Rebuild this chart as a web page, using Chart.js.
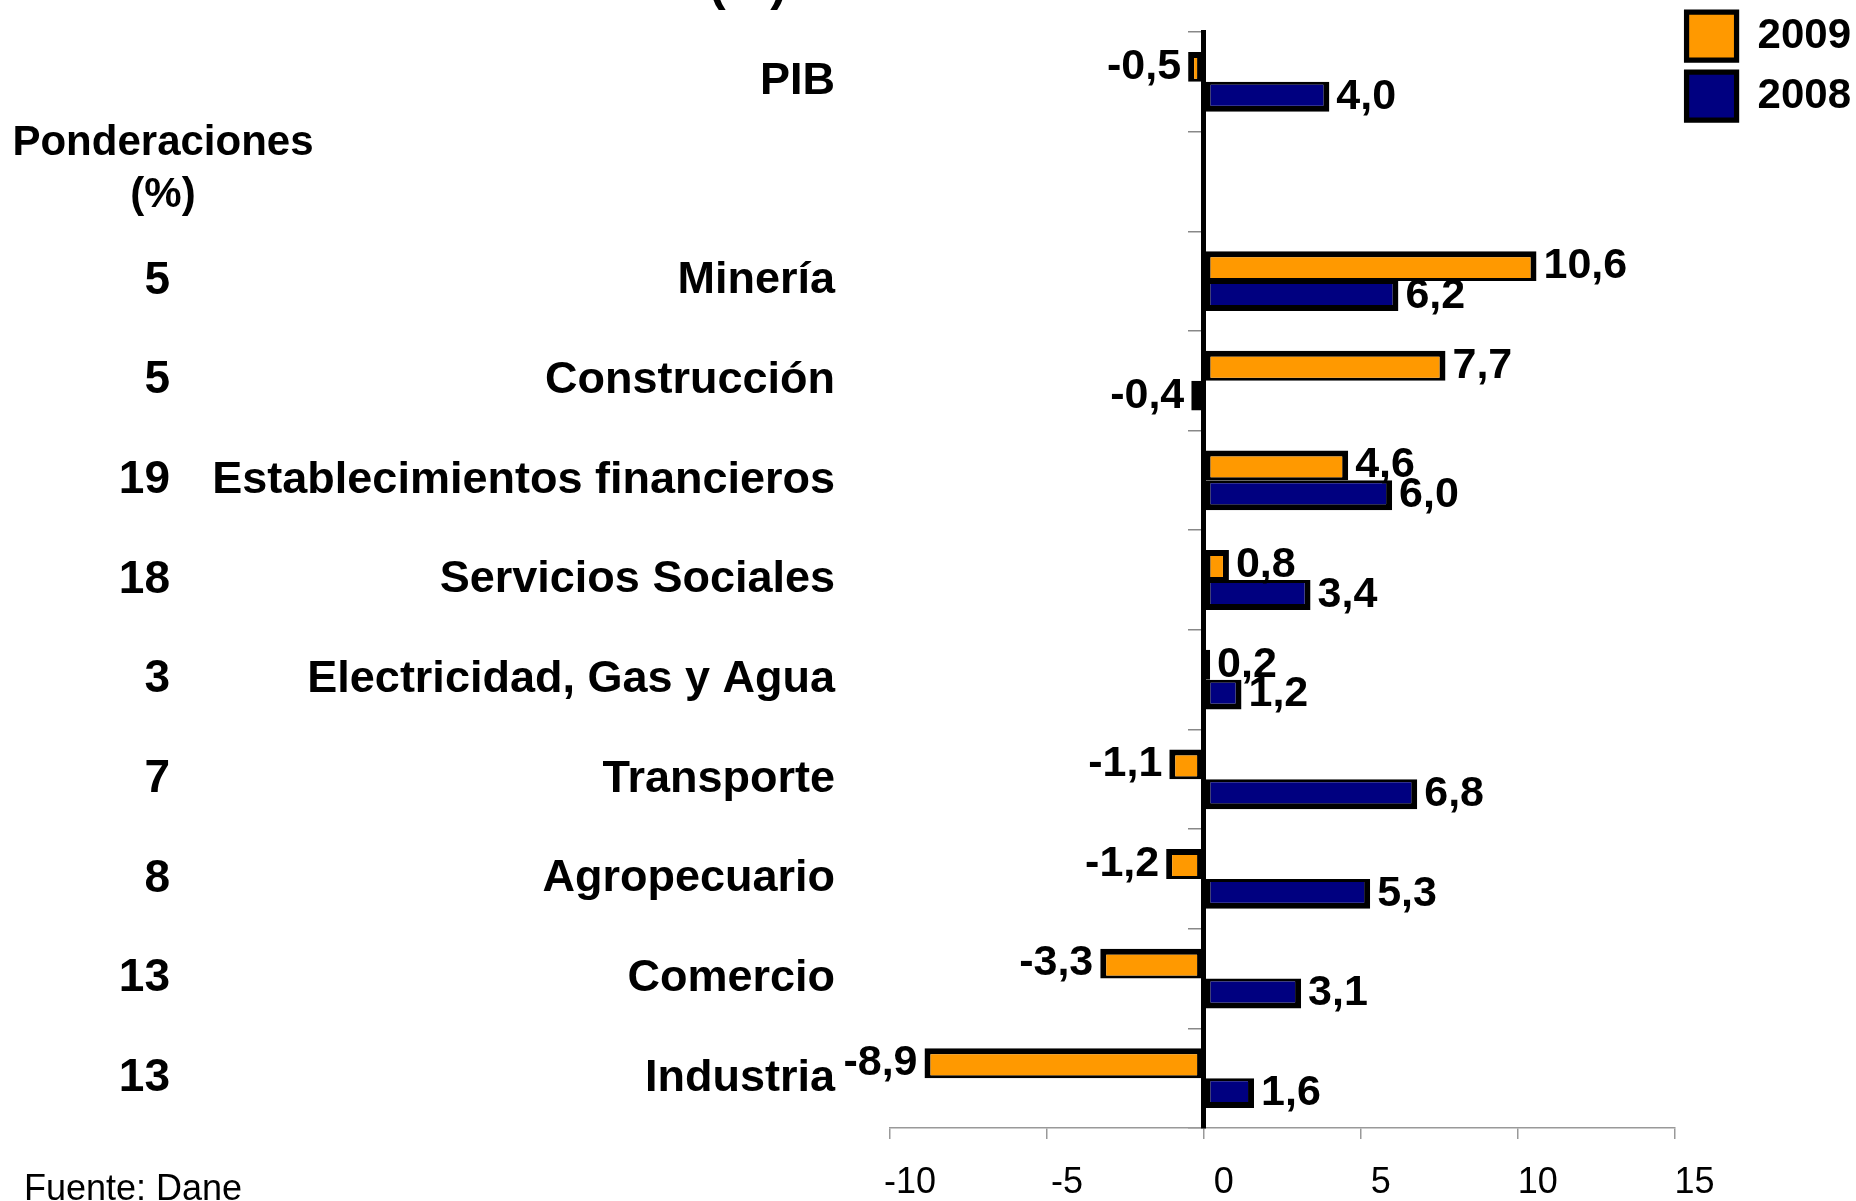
<!DOCTYPE html>
<html>
<head>
<meta charset="utf-8">
<script src="https://cdn.jsdelivr.net/npm/chart.js@4.4.1/dist/chart.umd.min.js"></script>
<style>
html,body{margin:0;padding:0;background:#fff;overflow:hidden}
#wrap{position:relative;width:1856px;height:1201px}
</style>
</head>
<body>
<div id="wrap"><canvas id="c" width="1856" height="1201"></canvas></div>
<script>
const categories = ['PIB', '', 'Minería', 'Construcción', 'Establecimientos financieros', 'Servicios Sociales', 'Electricidad, Gas y Agua', 'Transporte', 'Agropecuario', 'Comercio', 'Industria'];
const ponderaciones = ['', '', '5', '5', '19', '18', '3', '7', '8', '13', '13'];
const values2009 = [-0.5, null, 10.6, 7.7, 4.6, 0.8, 0.2, -1.1, -1.2, -3.3, -8.9];
const values2008 = [4.0, null, 6.2, -0.4, 6.0, 3.4, 1.2, 6.8, 5.3, 3.1, 1.6];
const seriesNames = ['2009', '2008'];
const xTicks = [-10, -5, 0, 5, 10, 15];
const headerLines = ['Ponderaciones', '(%)'];
const sourceNote = 'Fuente: Dane';
const titleFragment = '(%)';

const FONT = '"Liberation Sans", Arial, Helvetica, sans-serif';

const valueLabels = {
  id: 'valueLabels',
  afterDatasetsDraw(chart) {
    const ctx = chart.ctx;
    ctx.save();
    ctx.font = 'bold 43px ' + FONT;
    ctx.fillStyle = '#000';
    ctx.textBaseline = 'middle';
    chart.data.datasets.forEach((ds, di) => {
      const meta = chart.getDatasetMeta(di);
      meta.data.forEach((el, i) => {
        const v = ds.data[i];
        if (v === null || v === undefined) return;
        const txt = v.toFixed(1).replace('.', ',');
        if (v >= 0) {
          ctx.textAlign = 'left';
          ctx.fillText(txt, el.x + 7, el.y);
        } else {
          ctx.textAlign = 'right';
          ctx.fillText(txt, el.x - 7, el.y);
        }
      });
    });
    ctx.restore();
  }
};

const sideTexts = {
  id: 'sideTexts',
  afterDraw(chart) {
    const ctx = chart.ctx;
    const yScale = chart.scales.y;
    ctx.save();
    ctx.fillStyle = '#000';
    ctx.font = 'bold 42px ' + FONT;
    ctx.textAlign = 'center';
    ctx.textBaseline = 'middle';
    ctx.fillText(headerLines[0], 163, 143);
    ctx.fillText(headerLines[1], 163, 195);
    ctx.font = 'bold 46px ' + FONT;
    ctx.textAlign = 'right';
    ponderaciones.forEach((p, i) => {
      if (!p) return;
      ctx.fillText(p, 170, yScale.getPixelForValue(i));
    });
    ctx.font = '36px ' + FONT;
    ctx.textAlign = 'left';
    ctx.textBaseline = 'alphabetic';
    ctx.fillText(sourceNote, 24, 1200);
    ctx.font = 'bold 50px ' + FONT;
    ctx.textAlign = 'center';
    ctx.fillText(titleFragment, 748, 0);
    ctx.restore();
  }
};

const noPad = s => { s.paddingTop = 0; s.paddingBottom = 0; };

new Chart(document.getElementById('c'), {
  type: 'bar',
  data: {
    labels: categories,
    datasets: [
      {
        label: seriesNames[0],
        data: values2009,
        backgroundColor: '#FF9900',
        borderColor: '#000000',
        borderWidth: { top: 6, right: 6, bottom: 3, left: 6 },
        borderSkipped: false,
        categoryPercentage: 0.6,
        barPercentage: 1.0
      },
      {
        label: seriesNames[1],
        data: values2008,
        backgroundColor: '#000080',
        borderColor: '#000000',
        borderWidth: { top: 3, right: 6, bottom: 6, left: 6 },
        borderSkipped: false,
        categoryPercentage: 0.6,
        barPercentage: 1.0
      }
    ]
  },
  options: {
    indexAxis: 'y',
    responsive: false,
    devicePixelRatio: 1,
    animation: false,
    layout: { padding: { left: 0, top: 0, bottom: 0, right: -5 } },
    scales: {
      x: {
        type: 'linear',
        position: 'bottom',
        min: -10,
        max: 15,
        afterBuildTicks: s => { s.ticks = xTicks.map(v => ({ value: v })); },
        afterFit: s => { s.height = 73; },
        grid: { drawOnChartArea: false, drawTicks: true, tickLength: 11, color: '#999999', lineWidth: 1.5 },
        border: { display: true, color: '#999999', width: 1.5 },
        ticks: { font: { family: FONT, size: 36 }, color: '#000', padding: 22, labelOffset: 20, maxRotation: 0, autoSkip: false }
      },
      xTop: {
        type: 'linear',
        position: 'top',
        min: -10,
        max: 15,
        afterFit: s => { s.height = 32; },
        grid: { display: false, drawTicks: false },
        border: { display: false },
        ticks: { display: false }
      },
      y: {
        type: 'category',
        position: 'left',
        offset: true,
        afterFit: s => { s.width = 890; noPad(s); },
        grid: { display: false, drawTicks: false },
        border: { display: false },
        ticks: { font: { family: FONT, size: 45, weight: 'bold' }, color: '#000', padding: 55, autoSkip: false }
      },
      yZero: {
        type: 'category',
        labels: categories,
        position: { x: 0 },
        offset: true,
        afterFit: noPad,
        grid: { offset: true, drawOnChartArea: false, drawTicks: true, tickLength: 13, color: '#888888', lineWidth: 1.5 },
        border: { display: true, color: '#000000', width: 5 },
        ticks: { display: false }
      }
    },
    plugins: {
      legend: {
        display: true,
        position: 'right',
        align: 'start',
        labels: { boxWidth: 50, boxHeight: 48, padding: 12, font: { family: FONT, size: 42, weight: 'bold' }, color: '#000' }
      },
      tooltip: { enabled: false },
      title: { display: false }
    }
  },
  plugins: [valueLabels, sideTexts]
});
</script>
</body>
</html>
